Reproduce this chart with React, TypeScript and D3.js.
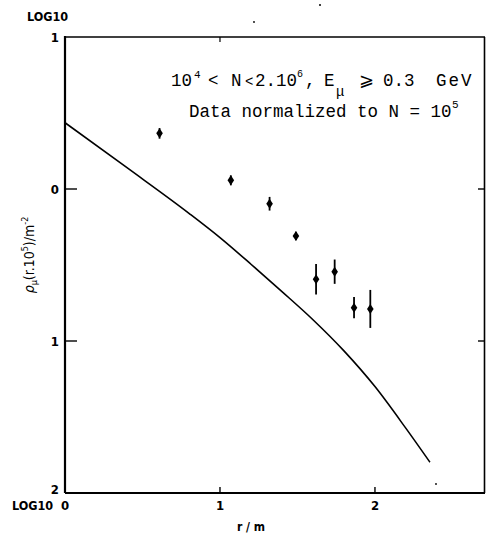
import React, { useEffect } from 'react';
import * as d3 from 'd3';

// measured points: r in metres, log10 density, error half-length (decades)
const pointR = [0.61, 1.07, 1.32, 1.49, 1.62, 1.74, 1.865, 1.97];
const pointLog = [0.366, 0.057, -0.097, -0.309, -0.594, -0.544, -0.781, -0.789];
const pointErr = [0.035, 0.033, 0.045, 0.028, 0.1, 0.08, 0.07, 0.125];

// calculated curve
const curveR = [0, 0.4, 0.8, 1.0, 1.2, 1.4, 1.6, 1.8, 2.0, 2.2, 2.355];
const curveLog = [0.436, 0.14, -0.16, -0.32, -0.495, -0.675, -0.86, -1.065, -1.3, -1.575, -1.798];

const yTicks = [1, 0, -1, -2];
const xTicks = [1, 2];

const W = 486;
const H = 534;

const App = () => {
    useEffect(() => {
        document.body.style.margin = '0';
    }, []);

    const x = d3.scaleLinear().domain([0, 2.71]).range([65, 485]);
    const y = d3.scaleLinear().domain([1, -2]).range([37, 493]);

    const line = d3.line<number>()
        .x((d, i) => x(curveR[i]))
        .y(d => y(d))
        .curve(d3.curveMonotoneX);

    const labelFont = '"Liberation Sans Narrow", "DejaVu Sans Condensed", sans-serif';
    const mono = '"Liberation Mono", "DejaVu Sans Mono", monospace';

    return (
        <svg width={W} height={H} style={{ display: 'block', background: '#fff' }}>
            {/* frame */}
            <line x1={x(0)} x2={x(0)} y1={y(1) - 1} y2={y(-2)} stroke="#000" strokeWidth={2.2} />
            <line x1={x(0)} x2={485} y1={y(1)} y2={y(1)} stroke="#000" strokeWidth={1.6} />
            <line x1={484.5} x2={484.5} y1={y(1)} y2={y(-2)} stroke="#000" strokeWidth={1.6} />
            <line x1={x(0)} x2={485} y1={y(-2)} y2={y(-2)} stroke="#000" strokeWidth={2} />

            {/* ticks */}
            {yTicks.filter(t => t === 0 || t === -1).map(t => (
                <g key={'yt' + t}>
                    <line x1={x(0)} x2={x(0) + 12} y1={y(t)} y2={y(t)} stroke="#000" strokeWidth={1.4} />
                    <line x1={484} x2={478} y1={y(t)} y2={y(t)} stroke="#000" strokeWidth={1.4} />
                </g>
            ))}
            {xTicks.map(t => (
                <line key={'xt' + t} x1={x(t)} x2={x(t)} y1={y(-2)} y2={y(-2) - 6} stroke="#000" strokeWidth={1.4} />
            ))}
            <line x1={x(1)} x2={x(1)} y1={y(1)} y2={y(1) + 5} stroke="#000" strokeWidth={1.2} />

            {/* y tick labels (decades, sign not printed) */}
            <g fontFamily={labelFont} fontWeight="bold" fontSize={13} textAnchor="end">
                {yTicks.map(t => (
                    <text key={'yl' + t} x={59} y={y(t) + (t === -2 ? 1 : 5)}>{Math.abs(t)}</text>
                ))}
            </g>
            <text x={27} y={21} fontFamily={labelFont} fontWeight="bold" fontSize={12.5}>LOG10</text>
            <text x={12} y={510} fontFamily={labelFont} fontWeight="bold" fontSize={12.5}>LOG10</text>
            <g fontFamily={labelFont} fontWeight="bold" fontSize={13} textAnchor="middle">
                <text x={x(0)} y={510}>0</text>
                {xTicks.map(t => (
                    <text key={'xl' + t} x={x(t)} y={510}>{t}</text>
                ))}
                <text x={251} y={531} fontSize={12}>r / m</text>
            </g>

            {/* y axis title */}
            <text transform="translate(34,255) rotate(-90)" textAnchor="middle"
                fontFamily={labelFont} fontSize={14}>
                <tspan fontStyle="italic">ρ</tspan>
                <tspan fontSize={9} dy={3}>μ</tspan>
                <tspan dy={-3}>(r.10</tspan>
                <tspan fontSize={9} dy={-6}>5</tspan>
                <tspan dy={6}>)/m</tspan>
                <tspan fontSize={9} dy={-6}>-2</tspan>
            </text>

            {/* annotation */}
            <g fontFamily={mono} fontSize={17.5} fill="#000">
                <text x={171} y={86}>10</text>
                <text x={194} y={78} fontSize={11}>4</text>
                <text x={208} y={86}>&lt;</text>
                <text x={231} y={86}>N</text>
                <text x={245} y={86} fontSize={14}>&lt;</text>
                <text x={255} y={86}>2.10</text>
                <text x={297} y={77} fontSize={10}>6</text>
                <text x={305} y={86}>,</text>
                <text x={324} y={86}>E</text>
                <text x={336} y={96} fontSize={14}>μ</text>
                <text x={359} y={86}>⩾</text>
                <text x={383} y={86}>0.3</text>
                <text x={436} y={86} letterSpacing={2}>GeV</text>

                <text x={189} y={117}>Data normalized to N = 10</text>
                <text x={452} y={108} fontSize={11}>5</text>
            </g>

            {/* calculated curve */}
            <path d={line(curveLog) || ''} fill="none" stroke="#000" strokeWidth={1.6} />

            {/* data points */}
            {pointR.map((r, i) => {
                const cx = x(r);
                const cy = y(pointLog[i]);
                return (
                    <g key={'p' + i}>
                        <line x1={cx} x2={cx} y1={y(pointLog[i] + pointErr[i])} y2={y(pointLog[i] - pointErr[i])}
                            stroke="#000" strokeWidth={1.8} />
                        <path d={`M${cx},${cy - 5}L${cx + 3.3},${cy}L${cx},${cy + 5}L${cx - 3.3},${cy}Z`} fill="#000" />
                    </g>
                );
            })}

            {/* scan specks */}
            <circle cx={254} cy={22} r={0.9} fill="#000" />
            <circle cx={320} cy={5} r={1} fill="#000" />
            <circle cx={436} cy={484} r={0.9} fill="#000" />
        </svg>
    );
};

export default App;
